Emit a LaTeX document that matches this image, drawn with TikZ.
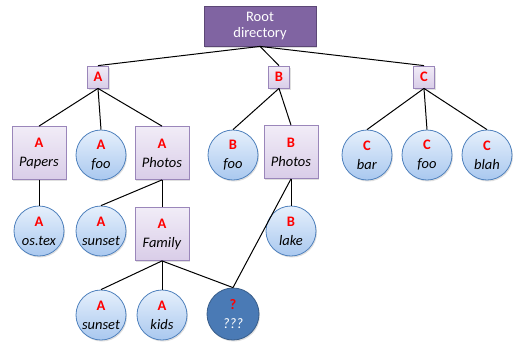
\documentclass[tikz,border=0pt]{standalone}
\usepackage{fontspec}
\setmainfont{Carlito}
\usetikzlibrary{shadows}
\definecolor{boxtop}{HTML}{F1ECF7}
\definecolor{boxbot}{HTML}{D9CDE8}
\definecolor{boxline}{HTML}{9A86BA}
\definecolor{rootfill}{HTML}{8064A2}
\definecolor{rootline}{HTML}{5C4776}
\definecolor{circtop}{HTML}{E6F0FC}
\definecolor{circbot}{HTML}{A9C8EF}
\definecolor{circline}{HTML}{4F81BD}
\definecolor{darkfill}{HTML}{4A7AB5}
\definecolor{darkline}{HTML}{385D8A}
\definecolor{tagred}{HTML}{FF0000}
\tikzset{
  every node/.style={font=\fontsize{14.5}{15}\selectfont, align=center, inner sep=0pt, line width=0.8pt},
  rootbox/.style={draw=rootline, fill=rootfill, text=white, minimum width=112pt, minimum height=40pt,
    drop shadow={shadow xshift=1pt, shadow yshift=-1.5pt, opacity=0.25}},
  letterbox/.style={draw=boxline, top color=boxtop, bottom color=boxbot, minimum width=21pt, minimum height=22pt,
    drop shadow={shadow xshift=1pt, shadow yshift=-1.5pt, opacity=0.25}},
  dirbox/.style={draw=boxline, top color=boxtop, bottom color=boxbot, minimum width=54pt, minimum height=53pt,
    drop shadow={shadow xshift=1pt, shadow yshift=-1.5pt, opacity=0.25}},
  filecirc/.style={circle, draw=circline, top color=circtop, bottom color=circbot, minimum size=50pt,
    drop shadow={shadow xshift=1pt, shadow yshift=-1.5pt, opacity=0.25}},
  lostcirc/.style={circle, draw=darkline, fill=darkfill, text=white, minimum size=52pt,
    drop shadow={shadow xshift=1pt, shadow yshift=-1.5pt, opacity=0.25}},
  edge/.style={draw=black, line width=1pt},
}
\newcommand{\tag}[1]{\textcolor{tagred}{\textbf{#1}}}
\newcommand{\entry}[2]{\tag{#1}\\[4pt]\textit{#2}}
\begin{document}
\begin{tikzpicture}[x=1pt, y=-1pt]
\useasboundingbox (0,0) rectangle (515,341);

% root and top-level directories
\node[rootbox] (root) at (260,26) {Root\\[1pt]directory};
\node[letterbox] (a) at (98,77) {\tag{A}};
\node[letterbox] (b) at (279,77) {\tag{B}};
\node[letterbox] (c) at (424,77) {\tag{C}};

% second level
\node[dirbox] (apapers) at (39,153) {\entry{A}{Papers}};
\node[filecirc] (afoo) at (101,155) {\entry{A}{foo}};
\node[dirbox] (aphotos) at (162,153) {\entry{A}{Photos}};
\node[filecirc] (bfoo) at (233,155) {\entry{B}{foo}};
\node[dirbox] (bphotos) at (291,152) {\entry{B}{Photos}};
\node[filecirc] (cbar) at (367,155) {\entry{C}{bar}};
\node[filecirc] (cfoo) at (427,155) {\entry{C}{foo}};
\node[filecirc] (cblah) at (487,155) {\entry{C}{blah}};

% third level
\node[filecirc] (aostex) at (39,231) {\entry{A}{os.tex}};
\node[filecirc] (asunset) at (101,231) {\entry{A}{sunset}};
\node[dirbox] (afamily) at (162,234) {\entry{A}{Family}};
\node[filecirc] (blake) at (291,231) {\entry{B}{lake}};

% fourth level
\node[filecirc] (asunset2) at (101,315) {\entry{A}{sunset}};
\node[filecirc] (akids) at (162,315) {\entry{A}{kids}};
\node[lostcirc] (lost) at (233,314) {\tag{?}\\[4pt]\textit{???}};

% connectors
\path[edge] (root.south) -- (a.north);
\path[edge] (root.south) -- (b.north);
\path[edge] (root.south) -- (c.north);
\path[edge] (a.south) -- (apapers.north);
\path[edge] (a.south) -- (afoo.north);
\path[edge] (a.south) -- (aphotos.north);
\path[edge] (b.south) -- (bfoo.north);
\path[edge] (b.south) -- (bphotos.north);
\path[edge] (c.south) -- (cbar.north);
\path[edge] (c.south) -- (cfoo.north);
\path[edge] (c.south) -- (cblah.north);
\path[edge] (apapers.south) -- (aostex.north);
\path[edge] (aphotos.south) -- (asunset.north);
\path[edge] (aphotos.south) -- (afamily.north);
\path[edge] (bphotos.south) -- (blake.north);
\path[edge] (bphotos.south) -- (lost.north);
\path[edge] (afamily.south) -- (asunset2.north);
\path[edge] (afamily.south) -- (akids.north);
\path[edge] (afamily.south) -- (lost.north);
\end{tikzpicture}
\end{document}
